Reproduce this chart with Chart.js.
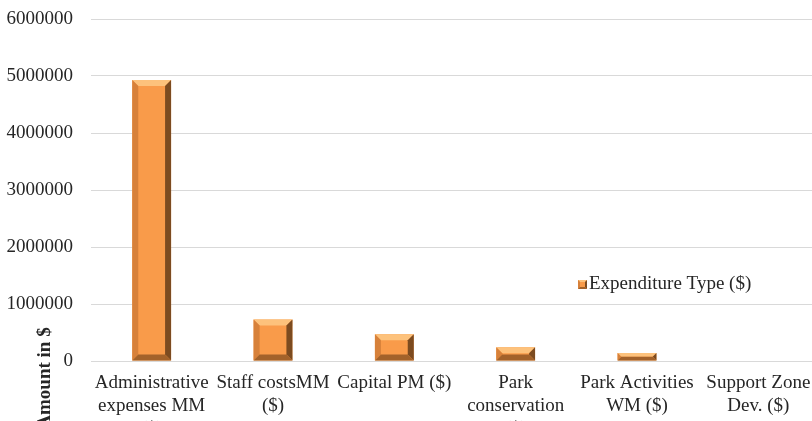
<!DOCTYPE html>
<html>
<head>
<meta charset="utf-8">
<script src="https://cdn.jsdelivr.net/npm/chart.js@4.4.1/dist/chart.umd.min.js"></script>
<style>
  html, body { margin: 0; padding: 0; overflow: hidden; background: #fff; }
  #wrap { position: relative; width: 840px; height: 450px; }
</style>
</head>
<body>
<div id="wrap"><canvas id="chart"></canvas></div>
<script>
// data
var categories = [
  ['Administrative', 'expenses MM', '($)'],
  ['Staff costsMM', '($)'],
  ['Capital PM ($)'],
  ['Park', 'conservation', '($)'],
  ['Park Activities', 'WM ($)'],
  ['Support Zone', 'Dev. ($)']
];
var amounts = [4930000, 730000, 470000, 240000, 140000, 0];
var seriesName = 'Expenditure Type ($)';
var axisTitle = 'Amount in $';
var yTicks = [0, 1000000, 2000000, 3000000, 4000000, 5000000, 6000000];

var FONT = '"Liberation Serif", "Times New Roman", serif';
var TEXT = '#262626';
var ORANGE = '#F99B4A';

function bevel(ctx, l, t, r, bo, b) {
  function poly(pts, color) {
    ctx.beginPath();
    ctx.moveTo(pts[0][0], pts[0][1]);
    for (var i = 1; i < pts.length; i++) ctx.lineTo(pts[i][0], pts[i][1]);
    ctx.closePath();
    ctx.fillStyle = color;
    ctx.fill();
  }
  poly([[l, t], [r, t], [r - b, t + b], [l + b, t + b]], '#FDC27C');
  poly([[l, t], [l + b, t + b], [l + b, bo - b], [l, bo]], '#D7813A');
  poly([[r, t], [r, bo], [r - b, bo - b], [r - b, t + b]], '#7C4B20');
  poly([[l, bo], [r, bo], [r - b, bo - b], [l + b, bo - b]], '#A3622A');
}

// bevelled bars like the office 3d look
var bevelPlugin = {
  id: 'bevel',
  afterDatasetsDraw: function(chart) {
    var ctx = chart.ctx;
    chart.getDatasetMeta(0).data.forEach(function(bar) {
      var p = bar.getProps(['x', 'y', 'base', 'width'], true);
      var h = p.base - p.y;
      if (h < 1) return;
      var l = p.x - p.width / 2, r = p.x + p.width / 2;
      var b = Math.min(6, h / 2);
      ctx.save();
      bevel(ctx, l, p.y, r, p.base, b);
      ctx.restore();
    });
  }
};

// axis title and legend sit where the original put them
var decorPlugin = {
  id: 'decor',
  afterDraw: function(chart) {
    var ctx = chart.ctx;
    ctx.save();
    ctx.translate(45, 378);
    ctx.rotate(-Math.PI / 2);
    ctx.font = 'bold 19px ' + FONT;
    ctx.fillStyle = TEXT;
    ctx.textAlign = 'center';
    ctx.textBaseline = 'middle';
    ctx.fillText(axisTitle, 0, 0);
    ctx.restore();

    ctx.save();
    ctx.fillStyle = ORANGE;
    ctx.fillRect(578, 280, 9, 9);
    bevel(ctx, 578, 280, 587, 289, 2);
    ctx.font = '19px ' + FONT;
    ctx.fillStyle = TEXT;
    ctx.textBaseline = 'middle';
    ctx.fillText(chart.data.datasets[0].label, 589, 284);
    ctx.restore();
  }
};

var ctx = document.getElementById('chart').getContext('2d');
new Chart(ctx, {
  type: 'bar',
  data: {
    labels: categories,
    datasets: [{
      label: seriesName,
      data: amounts,
      backgroundColor: ORANGE,
      borderWidth: 0,
      barPercentage: 0.32,
      categoryPercentage: 1
    }]
  },
  options: {
    responsive: true,
    maintainAspectRatio: false,
    animation: false,
    layout: { padding: { left: 0, right: 21, top: 19, bottom: 0 } },
    plugins: {
      legend: { display: false },
      tooltip: { enabled: false }
    },
    scales: {
      x: {
        grid: { display: false, drawTicks: false },
        border: { display: false },
        ticks: {
          color: TEXT,
          font: { family: FONT, size: 19, lineHeight: 1.22 },
          padding: 10,
          maxRotation: 0,
          autoSkip: false
        },
        afterFit: function(scale) {
          scale.height = 89;
          scale.paddingLeft = 0;
          scale.paddingRight = 0;
        }
      },
      y: {
        min: 0,
        max: 6000000,
        afterBuildTicks: function(scale) {
          scale.ticks = yTicks.map(function(v) { return { value: v }; });
        },
        grid: { color: '#D9D9D9', lineWidth: 1, drawTicks: false },
        border: { display: false },
        ticks: {
          color: TEXT,
          font: { family: FONT, size: 19 },
          padding: 18,
          callback: function(v) { return String(v); }
        },
        afterFit: function(scale) {
          scale.width = 91;
          scale.paddingTop = 0;
          scale.paddingBottom = 0;
        }
      }
    }
  },
  plugins: [bevelPlugin, decorPlugin]
});
</script>
</body>
</html>
